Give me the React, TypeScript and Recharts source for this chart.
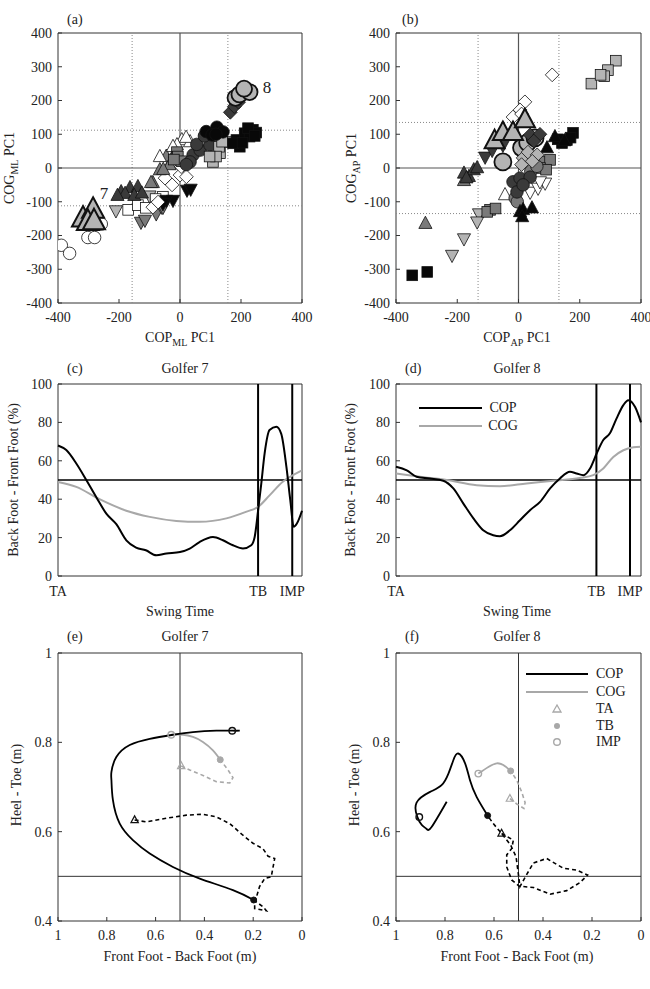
import React from 'react'
import {
  ComposedChart,
  Line,
  LineChart,
  ReferenceArea,
  ReferenceLine,
  Scatter,
  ScatterChart,
  XAxis,
  YAxis,
} from 'recharts'

const FONT = '"Liberation Serif", "DejaVu Serif", "Times New Roman", serif'
const INK = '#222'

type Pt = [number, number]

// ---- panel (a): COP_ML PC1 vs COG_ML PC1 ----
const aCircleWhite: Pt[] = [[-389, -229], [-362, -253], [-302, -206], [-280, -206], [-258, -166]]
const aBigTriLight: Pt[] = [[-318, -150], [-285, -124], [-302, -160], [-282, -158]]
const aTriUpDark: Pt[] = [[-193, -71], [-164, -59], [-138, -56], [-180, -76], [-205, -82], [-150, -82], [-125, -75]]
const aTriDownLight: Pt[] = [[-210, -126], [-100, -82]]
const aSquareWhite: Pt[] = [[-170, -124], [-138, -110], [-56, -85], [-112, -118], [-80, -92]]
const aTriDownMid: Pt[] = [[-128, -160], [-115, -154], [-78, -135], [-61, -115], [-56, -116]]
const aTriDownBlack: Pt[] = [[-23, -95], [23, -65], [-45, -95], [-56, -105], [35, -62]]
const aDiamondWhite: Pt[] = [[-89, -116], [-26, -50], [-49, -30], [0, -21], [4, 4], [21, -26], [-72, -101]]
const aTriUpMid: Pt[] = [[-66, -6], [-89, -44], [-26, 24], [-45, 34], [-17, 44], [-34, 9], [-55, -5], [-95, -44]]
const aTriUpWhite: Pt[] = [[-66, 33], [6, 83], [33, 77], [-10, 68], [-23, 63], [20, 90]]
const aSquareMid: Pt[] = [[-10, 47], [-7, 34], [5, 20], [-20, 25]]
const aCircleDark: Pt[] = [[43, 39], [66, 53], [33, 18], [98, 68], [21, 10], [55, 70], [80, 95]]
const aSquareLight: Pt[] = [[108, 18], [131, 44], [154, 77], [128, 63], [118, 34], [97, 34], [138, 78]]
const aCircleBlack: Pt[] = [[121, 121], [141, 107], [86, 108], [105, 98], [118, 100]]
const aSquareBlack: Pt[] = [[185, 83], [212, 103], [239, 113], [250, 105], [196, 63], [228, 93], [223, 118], [174, 73], [205, 75], [245, 95]]
const aDiamondDark: Pt[] = [[165, 165], [178, 182], [192, 195]]
const aBigCircleLight: Pt[] = [[182, 208], [195, 218], [228, 225], [210, 235]]

// ---- panel (b): COP_AP PC1 vs COG_AP PC1 ----
const bSquareBlack: Pt[] = [[-347, -318], [-298, -308], [178, 104], [158, 83], [142, 74], [128, 85], [170, 90]]
const bTriDownLight: Pt[] = [[-129, -135], [-135, -159], [-178, -209], [-217, -258]]
const bTriUpMid: Pt[] = [[-304, -165], [-178, -38]]
const bTriUpDark: Pt[] = [[-162, -26], [-178, -16], [-146, -6], [-135, 0], [-170, -30]]
const bSquareMid: Pt[] = [[-93, -124], [-102, -130], [-75, -120], [80, 18], [103, 24], [70, 0], [90, -5]]
const bTriUpWhite: Pt[] = [[-44, -80]]
const bTriDownWhite: Pt[] = [[38, -71], [64, -59], [87, -44], [70, -40]]
const bCircleMid: Pt[] = [[-11, -89], [-4, -100], [40, -10], [60, 5]]
const bCircleBlack: Pt[] = [[-18, -41], [5, -30], [38, -27], [-5, -71], [15, -50]]
const bTriUpBlack: Pt[] = [[5, -130], [15, -124], [44, -119], [12, -145], [119, 92], [93, 59], [150, 80]]
const bTriDownBlack: Pt[] = [[-109, 33], [-86, 53], [-51, 68]]
const bDiamondLight: Pt[] = [[15, 30], [31, 47], [61, 39], [10, 10], [45, 20]]
const bDiamondDark: Pt[] = [[38, 98], [70, 100], [50, 80]]
const bDiamondWhite: Pt[] = [[110, 276], [21, 196], [5, 172], [-18, 151], [10, 160]]
const bSquareLight: Pt[] = [[318, 318], [292, 290], [280, 272], [238, 250], [268, 276]]
const bBigCircleLight: Pt[] = [[-51, 18], [10, 60], [30, 75], [54, 89]]
const bBigTriLight: Pt[] = [[-78, 80], [-51, 104], [-18, 104], [21, 142]]

const pcTicksX = [-400, -200, 0, 200, 400]
const pcTicksY = [-400, -300, -200, -100, 0, 100, 200, 300, 400]

// ---- panels (c), (d): swing time (%) ----
const g7Cop: Pt[] = [[0, 68], [3.4, 65.6], [7.5, 58.6], [11.6, 50], [15.7, 41], [19.8, 32.5], [23.9, 27], [28, 18.6], [32, 14.8], [36, 13.4], [40.3, 10.8], [44.4, 11.7], [50, 12.5], [54, 14.3], [58, 17.7], [63.5, 20.3], [67.6, 18.6], [71.7, 16], [75.8, 14.3], [79.2, 16], [80.6, 20.3], [82, 34], [83.3, 48], [84.7, 64], [86.7, 76], [89.5, 77.7], [91.5, 74], [93.6, 57], [95.2, 39.5], [96.6, 25.6], [97.9, 27.3], [100, 34]]
const g7Cog: Pt[] = [[0, 49], [7.5, 46.4], [17, 40], [28, 34], [37.6, 30.8], [48.5, 28.7], [58, 28.2], [69, 30], [77, 33.4], [82, 36], [86.7, 42], [92, 49], [96.3, 52.5], [100, 55]]
const g8Cop: Pt[] = [[0, 56.9], [4.4, 55], [8.4, 51.7], [13.9, 50.8], [19.3, 49.6], [23.4, 45.6], [27.5, 37.7], [31.6, 30], [35.6, 23.8], [39.7, 21.2], [42.4, 20.7], [46.5, 23.8], [50.6, 29], [54.7, 34.3], [58.8, 38.6], [62.9, 45.6], [66.9, 50.8], [71, 54.3], [73.7, 53.4], [76.5, 52.5], [79.2, 56], [81.9, 63.8], [84.6, 70.8], [87.3, 74.3], [90, 82], [92.8, 89], [94.8, 91.6], [97.6, 88], [100, 80]]
const g8Cog: Pt[] = [[0, 53.4], [9.8, 51.7], [20.7, 50], [32.9, 47.3], [42.4, 46.8], [53.3, 48.2], [64.2, 49.6], [75, 51], [80.5, 52.5], [84.6, 56], [88.7, 62], [92.8, 65.5], [96.9, 67], [100, 67.3]]
const g7Events = [0, 82, 96]
const g8Events = [0, 81.8, 95.5]
const eventLabels = ['TA', 'TB', 'IMP']
const pctTicks = [0, 20, 40, 60, 80, 100]

// ---- panels (e), (f): COP / COG paths (m) ----
const g7CopBack: Pt[] = [[0.686, 0.626], [0.638, 0.622], [0.556, 0.63], [0.474, 0.637], [0.406, 0.639], [0.351, 0.633], [0.296, 0.618], [0.242, 0.592], [0.201, 0.574], [0.16, 0.562], [0.139, 0.545], [0.112, 0.54], [0.126, 0.499], [0.153, 0.495], [0.174, 0.477], [0.194, 0.44], [0.194, 0.428], [0.146, 0.423], [0.16, 0.432], [0.198, 0.447]]
const g7CopDown: Pt[] = [[0.198, 0.447], [0.283, 0.469], [0.419, 0.495], [0.529, 0.521], [0.624, 0.551], [0.693, 0.581], [0.747, 0.618], [0.775, 0.671], [0.781, 0.715], [0.781, 0.734], [0.761, 0.767], [0.706, 0.794], [0.624, 0.808], [0.529, 0.817], [0.447, 0.823], [0.351, 0.826], [0.286, 0.826], [0.255, 0.826]]
const g7CogBack: Pt[] = [[0.495, 0.747], [0.46, 0.738], [0.406, 0.726], [0.351, 0.712], [0.296, 0.709], [0.283, 0.721], [0.303, 0.738], [0.335, 0.761]]
const g7CogDown: Pt[] = [[0.335, 0.761], [0.365, 0.782], [0.406, 0.801], [0.447, 0.812], [0.488, 0.817], [0.536, 0.817]]
const g7CopEvents: Pt[] = [[0.686, 0.626], [0.198, 0.447], [0.286, 0.826]]
const g7CogEvents: Pt[] = [[0.495, 0.747], [0.335, 0.761], [0.536, 0.817]]

const g8CopBack: Pt[] = [[0.569, 0.596], [0.521, 0.581], [0.528, 0.562], [0.548, 0.548], [0.548, 0.521], [0.528, 0.492], [0.497, 0.478], [0.439, 0.475], [0.371, 0.46], [0.303, 0.468], [0.249, 0.486], [0.218, 0.503], [0.263, 0.514], [0.317, 0.518], [0.385, 0.54], [0.439, 0.53], [0.473, 0.498], [0.494, 0.477], [0.501, 0.507], [0.51, 0.544], [0.532, 0.57], [0.569, 0.596], [0.603, 0.618], [0.626, 0.636]]
const g8CopDown: Pt[] = [[0.626, 0.636], [0.671, 0.678], [0.698, 0.715], [0.718, 0.753], [0.746, 0.775], [0.766, 0.76], [0.786, 0.73], [0.814, 0.704], [0.861, 0.689], [0.916, 0.665], [0.913, 0.633], [0.895, 0.615], [0.875, 0.606], [0.854, 0.611], [0.793, 0.667]]
const g8CogBack: Pt[] = [[0.535, 0.674], [0.507, 0.662], [0.478, 0.652], [0.473, 0.665], [0.487, 0.689], [0.507, 0.715], [0.532, 0.736]]
const g8CogDown: Pt[] = [[0.532, 0.736], [0.562, 0.749], [0.589, 0.753], [0.623, 0.745], [0.664, 0.73]]
const g8CopEvents: Pt[] = [[0.569, 0.596], [0.626, 0.636], [0.905, 0.633]]
const g8CogEvents: Pt[] = [[0.535, 0.674], [0.532, 0.736], [0.664, 0.73]]

const footTicksX = [0, 0.2, 0.4, 0.6, 0.8, 1]
const footTicksY = [0.4, 0.6, 0.8, 1]

const WHITE = '#ffffff'
const LIGHT = '#b4b4b4'
const MID = '#7a7a7a'
const DARK = '#3a3a3a'
const BLACK = '#080808'
const COG_GRAY = '#a8a8a8'

const pts = (arr: Pt[]) => arr.map(([x, y]) => ({ x, y }))

type Kind = 'circle' | 'square' | 'diamond' | 'triUp' | 'triDown'
type Series = { data: Pt[]; kind: Kind; fill: string; size: number; sw: number }

function markerShape(kind: Kind, size: number, fill: string, sw: number, stroke = '#111') {
  return (p: any) => {
    const { cx, cy } = p
    if (cx == null || cy == null) return <g />
    const st = { fill, stroke, strokeWidth: sw }
    const h = size / 2
    if (kind === 'circle') return <circle cx={cx} cy={cy} r={h} {...st} />
    if (kind === 'square') return <rect x={cx - h * 0.85} y={cy - h * 0.85} width={size * 0.85} height={size * 0.85} {...st} />
    if (kind === 'diamond') {
      const d = h * 1.1
      return <polygon points={`${cx},${cy - d} ${cx + d},${cy} ${cx},${cy + d} ${cx - d},${cy}`} {...st} />
    }
    if (kind === 'triUp')
      return <polygon points={`${cx},${cy - size * 0.6} ${cx + h * 1.05},${cy + size * 0.38} ${cx - h * 1.05},${cy + size * 0.38}`} {...st} />
    return <polygon points={`${cx},${cy + size * 0.6} ${cx + h * 1.05},${cy - size * 0.38} ${cx - h * 1.05},${cy - size * 0.38}`} {...st} />
  }
}

const N = 12.5
const seriesA: Series[] = [
  { data: aCircleWhite, kind: 'circle', fill: WHITE, size: N, sw: 0.8 },
  { data: aTriDownLight, kind: 'triDown', fill: LIGHT, size: N, sw: 0.8 },
  { data: aSquareWhite, kind: 'square', fill: WHITE, size: N, sw: 0.8 },
  { data: aTriDownMid, kind: 'triDown', fill: MID, size: N, sw: 0.8 },
  { data: aTriDownBlack, kind: 'triDown', fill: BLACK, size: N, sw: 0.8 },
  { data: aTriUpDark, kind: 'triUp', fill: DARK, size: N, sw: 0.8 },
  { data: aDiamondWhite, kind: 'diamond', fill: WHITE, size: N, sw: 0.8 },
  { data: aTriUpMid, kind: 'triUp', fill: MID, size: N, sw: 0.8 },
  { data: aTriUpWhite, kind: 'triUp', fill: WHITE, size: N, sw: 0.8 },
  { data: aSquareMid, kind: 'square', fill: MID, size: N, sw: 0.8 },
  { data: aCircleDark, kind: 'circle', fill: DARK, size: N, sw: 0.8 },
  { data: aSquareLight, kind: 'square', fill: LIGHT, size: N, sw: 0.8 },
  { data: aCircleBlack, kind: 'circle', fill: BLACK, size: N, sw: 0.8 },
  { data: aSquareBlack, kind: 'square', fill: BLACK, size: N, sw: 0.8 },
  { data: aDiamondDark, kind: 'diamond', fill: DARK, size: N, sw: 0.8 },
  { data: aBigTriLight, kind: 'triUp', fill: LIGHT, size: 21, sw: 2 },
  { data: aBigCircleLight, kind: 'circle', fill: LIGHT, size: 16, sw: 1.8 },
]

const seriesB: Series[] = [
  { data: bSquareBlack, kind: 'square', fill: BLACK, size: N, sw: 0.8 },
  { data: bTriDownLight, kind: 'triDown', fill: LIGHT, size: N, sw: 0.8 },
  { data: bTriUpMid, kind: 'triUp', fill: MID, size: N, sw: 0.8 },
  { data: bTriUpDark, kind: 'triUp', fill: DARK, size: N, sw: 0.8 },
  { data: bSquareMid, kind: 'square', fill: MID, size: N, sw: 0.8 },
  { data: bTriUpWhite, kind: 'triUp', fill: WHITE, size: N, sw: 0.8 },
  { data: bTriDownWhite, kind: 'triDown', fill: WHITE, size: N, sw: 0.8 },
  { data: bCircleMid, kind: 'circle', fill: MID, size: N, sw: 0.8 },
  { data: bCircleBlack, kind: 'circle', fill: DARK, size: N, sw: 0.8 },
  { data: bTriUpBlack, kind: 'triUp', fill: BLACK, size: N, sw: 0.8 },
  { data: bTriDownBlack, kind: 'triDown', fill: DARK, size: N, sw: 0.8 },
  { data: bDiamondWhite, kind: 'diamond', fill: WHITE, size: N, sw: 0.8 },
  { data: bSquareLight, kind: 'square', fill: LIGHT, size: N, sw: 0.8 },
  { data: bBigCircleLight, kind: 'circle', fill: LIGHT, size: 17, sw: 1.8 },
  { data: bDiamondLight, kind: 'diamond', fill: LIGHT, size: N, sw: 0.8 },
  { data: bDiamondDark, kind: 'diamond', fill: DARK, size: N, sw: 0.8 },
  { data: bBigTriLight, kind: 'triUp', fill: LIGHT, size: 19, sw: 2 },
]

const tickStyle = { fontFamily: FONT, fontSize: 14, fill: INK }

// inner tick marks on the top and right edges of a boxed axes
function boxTicks(xTicks: number[], yTicks: number[]) {
  return [
    <XAxis key="xt" xAxisId="top" orientation="top" type="number" domain={[xTicks[0], xTicks[xTicks.length - 1]]} ticks={xTicks}
      height={0} tickSize={-4} tick={false} axisLine={false} stroke="#333" allowDataOverflow interval={0} />,
    <YAxis key="yr" yAxisId="right" orientation="right" type="number" domain={[yTicks[0], yTicks[yTicks.length - 1]]} ticks={yTicks}
      width={0} tickSize={-4} tick={false} axisLine={false} stroke="#333" allowDataOverflow interval={0} />,
  ]
}

function PcPanel({ left, width, series, vx, hy }: { left: number; width: number; series: Series[]; vx: number; hy: number }) {
  return (
    <div style={{ position: 'absolute', left, top: 0 }}>
      <ScatterChart width={width} height={330} margin={{ top: 33, right: width === 320 ? 18 : 9, bottom: 0, left: 0 }}>
        <XAxis type="number" dataKey="x" domain={[-400, 400]} ticks={pcTicksX} height={27} tickSize={-4} tickMargin={13}
          axisLine={false} stroke="#333" tick={tickStyle} allowDataOverflow interval={0} />
        <YAxis type="number" dataKey="y" domain={[-400, 400]} ticks={pcTicksY} width={58} tickSize={-4} tickMargin={10}
          axisLine={false} stroke="#333" tick={tickStyle} allowDataOverflow interval={0} />
        {boxTicks(pcTicksX, pcTicksY)}
        <ReferenceArea x1={-400} x2={400} y1={-400} y2={400} fill="none" stroke="#333" strokeWidth={1} />
        <ReferenceLine x={-vx} stroke="#888" strokeDasharray="1 2" />
        <ReferenceLine x={vx} stroke="#888" strokeDasharray="1 2" />
        <ReferenceLine y={-hy} stroke="#888" strokeDasharray="1 2" />
        <ReferenceLine y={hy} stroke="#888" strokeDasharray="1 2" />
        <ReferenceLine x={0} stroke="#555" strokeWidth={1.2} />
        <ReferenceLine y={0} stroke="#555" strokeWidth={1.2} />
        {series.map((s, i) => (
          <Scatter key={i} data={pts(s.data)} isAnimationActive={false}
            shape={markerShape(s.kind, s.size, s.fill, s.sw)} />
        ))}
      </ScatterChart>
    </div>
  )
}

function TimePanel({ left, width, cop, cog, events }: { left: number; width: number; cop: Pt[]; cog: Pt[]; events: number[] }) {
  return (
    <div style={{ position: 'absolute', left, top: 350 }}>
      <LineChart width={width} height={253} margin={{ top: 34, right: width === 320 ? 18 : 9, bottom: 0, left: 0 }}>
        <XAxis type="number" dataKey="x" domain={[0, 100]} ticks={events} height={27} tickLine={false} tickSize={0} tickMargin={10}
          axisLine={false} tick={tickStyle} interval={0}
          tickFormatter={(v: number) => eventLabels[events.indexOf(v)] ?? ''} />
        <YAxis type="number" domain={[0, 100]} ticks={pctTicks} width={58} tickSize={-4} tickMargin={10}
          axisLine={false} stroke="#333" tick={tickStyle} interval={0} />
        <YAxis yAxisId="right" orientation="right" type="number" domain={[0, 100]} ticks={pctTicks}
          width={0} tickSize={-4} tick={false} axisLine={false} stroke="#333" interval={0} />
        <ReferenceArea x1={0} x2={100} y1={0} y2={100} fill="none" stroke="#333" strokeWidth={1} />
        <ReferenceLine y={50} stroke="#000" strokeWidth={1.6} />
        <ReferenceLine x={events[1]} stroke="#000" strokeWidth={2} />
        <ReferenceLine x={events[2]} stroke="#000" strokeWidth={2} />
        <Line data={pts(cog)} dataKey="y" type="monotone" stroke={COG_GRAY} strokeWidth={2} dot={false} isAnimationActive={false} />
        <Line data={pts(cop)} dataKey="y" type="monotone" stroke="#000" strokeWidth={2} dot={false} isAnimationActive={false} />
      </LineChart>
    </div>
  )
}

const evShapes = (color: string) => [
  markerShape('triUp', 7, 'none', 1.2, color),
  markerShape('circle', 6, color, 1, color),
  markerShape('circle', 6.5, 'none', 1.4, color),
]

function PathPanel({ left, width, copBack, copDown, cogBack, cogDown, copEv, cogEv }: {
  left: number; width: number; copBack: Pt[]; copDown: Pt[]; cogBack: Pt[]; cogDown: Pt[]; copEv: Pt[]; cogEv: Pt[]
}) {
  const copShapes = evShapes('#111')
  const cogShapes = evShapes(COG_GRAY)
  return (
    <div style={{ position: 'absolute', left, top: 640 }}>
      <ComposedChart width={width} height={308} margin={{ top: 13, right: width === 320 ? 18 : 9, bottom: 0, left: 0 }}>
        <XAxis type="number" dataKey="x" domain={[0, 1]} reversed ticks={footTicksX} height={27} tickSize={-4} tickMargin={13}
          axisLine={false} stroke="#333" tick={tickStyle} interval={0} allowDataOverflow />
        <YAxis type="number" dataKey="y" domain={[0.4, 1]} ticks={footTicksY} width={58} tickSize={-4} tickMargin={10}
          axisLine={false} stroke="#333" tick={tickStyle} interval={0} allowDataOverflow />
        <XAxis xAxisId="top" orientation="top" type="number" domain={[0, 1]} reversed ticks={footTicksX}
          height={0} tickSize={-4} tick={false} axisLine={false} stroke="#333" allowDataOverflow interval={0} />
        <YAxis yAxisId="right" orientation="right" type="number" domain={[0.4, 1]} ticks={footTicksY}
          width={0} tickSize={-4} tick={false} axisLine={false} stroke="#333" allowDataOverflow interval={0} />
        <ReferenceArea x1={0} x2={1} y1={0.4} y2={1} fill="none" stroke="#333" strokeWidth={1} />
        <ReferenceLine x={0.5} stroke="#333" strokeWidth={1} />
        <ReferenceLine y={0.5} stroke="#333" strokeWidth={1} />
        <Line data={pts(cogBack)} dataKey="y" type="linear" stroke={COG_GRAY} strokeWidth={1.6} strokeDasharray="4 3" dot={false} isAnimationActive={false} />
        <Line data={pts(cogDown)} dataKey="y" type="natural" stroke={COG_GRAY} strokeWidth={1.8} dot={false} isAnimationActive={false} />
        <Line data={pts(copBack)} dataKey="y" type="linear" stroke="#000" strokeWidth={1.6} strokeDasharray="4 3" dot={false} isAnimationActive={false} />
        <Line data={pts(copDown)} dataKey="y" type="natural" stroke="#000" strokeWidth={1.8} dot={false} isAnimationActive={false} />
        {copEv.map((p, i) => (
          <Scatter key={'p' + i} data={pts([p])} isAnimationActive={false} shape={copShapes[i]} />
        ))}
        {cogEv.map((p, i) => (
          <Scatter key={'g' + i} data={pts([p])} isAnimationActive={false} shape={cogShapes[i]} />
        ))}
      </ComposedChart>
    </div>
  )
}

const txt = (left: number, top: number, content: React.ReactNode, extra: React.CSSProperties = {}) => (
  <div style={{ position: 'absolute', left, top, fontSize: 14, lineHeight: '16px', whiteSpace: 'nowrap', ...extra }}>{content}</div>
)
const ctr = (cx: number, cy: number, content: React.ReactNode, extra: React.CSSProperties = {}) => (
  <div style={{ position: 'absolute', left: cx, top: cy, transform: 'translate(-50%, -50%)', fontSize: 14, lineHeight: '16px', whiteSpace: 'nowrap', ...extra }}>{content}</div>
)
const rot = (cx: number, cy: number, content: React.ReactNode) => (
  <div style={{ position: 'absolute', left: cx, top: cy, transform: 'translate(-50%, -50%) rotate(-90deg)', fontSize: 14, lineHeight: '16px', whiteSpace: 'nowrap' }}>{content}</div>
)
const sub = (s: string) => <span style={{ fontSize: 10, position: 'relative', top: 4 }}>{s}</span>

export default function App() {
  return (
    <div style={{ position: 'absolute', left: 0, top: 0, width: 650, height: 989, background: '#fff', fontFamily: FONT, color: INK, overflow: 'hidden' }}>
      <PcPanel left={0} width={320} series={seriesA} vx={157} hy={112} />
      <PcPanel left={338} width={312} series={seriesB} vx={132} hy={135} />
      <TimePanel left={0} width={320} cop={g7Cop} cog={g7Cog} events={g7Events} />
      <TimePanel left={338} width={312} cop={g8Cop} cog={g8Cog} events={g8Events} />
      <PathPanel left={0} width={320} copBack={g7CopBack} copDown={g7CopDown} cogBack={g7CogBack} cogDown={g7CogDown} copEv={g7CopEvents} cogEv={g7CogEvents} />
      <PathPanel left={338} width={312} copBack={g8CopBack} copDown={g8CopDown} cogBack={g8CogBack} cogDown={g8CogDown} copEv={g8CopEvents} cogEv={g8CogEvents} />

      {/* panel letters and titles */}
      {txt(67, 12, '(a)')}
      {txt(402, 12, '(b)')}
      {txt(67, 361, '(c)')}
      {txt(405, 361, '(d)')}
      {txt(67, 629, '(e)')}
      {txt(405, 629, '(f)')}
      {ctr(185, 369, 'Golfer 7')}
      {ctr(517, 369, 'Golfer 8')}
      {ctr(185, 637, 'Golfer 7')}
      {ctr(517, 637, 'Golfer 8')}

      {/* axis titles */}
      {ctr(180, 338, <>COP{sub('ML')} PC1</>)}
      {ctr(517, 338, <>COP{sub('AP')} PC1</>)}
      {rot(10, 168, <>COG{sub('ML')} PC1</>)}
      {rot(352, 168, <>COG{sub('AP')} PC1</>)}
      {ctr(180, 612, 'Swing Time')}
      {ctr(517, 612, 'Swing Time')}
      {rot(14, 480, 'Back Foot - Front Foot (%)')}
      {rot(351, 480, 'Back Foot - Front Foot (%)')}
      {ctr(180, 957, 'Front Foot - Back Foot (m)')}
      {ctr(517, 957, 'Front Foot - Back Foot (m)')}
      {rot(17, 785, 'Heel - Toe (m)')}
      {rot(355, 785, 'Heel - Toe (m)')}

      {/* golfer numbers in (a) */}
      {ctr(267, 88, '8', { fontSize: 17 })}
      {ctr(104, 194, '7', { fontSize: 17 })}

      {/* legend (d) */}
      <svg style={{ position: 'absolute', left: 415, top: 398 }} width={70} height={40}>
        <line x1={4} x2={67} y1={10} y2={10} stroke="#000" strokeWidth={2} />
        <line x1={4} x2={67} y1={28} y2={28} stroke={COG_GRAY} strokeWidth={2} />
      </svg>
      {ctr(503, 408, 'COP')}
      {ctr(503, 426, 'COG')}

      {/* legend (f) */}
      <svg style={{ position: 'absolute', left: 522, top: 664 }} width={70} height={90}>
        <line x1={4} x2={66} y1={10} y2={10} stroke="#000" strokeWidth={2} />
        <line x1={4} x2={66} y1={28} y2={28} stroke={COG_GRAY} strokeWidth={2} />
        <polygon points="35,41 39,48 31,48" fill="none" stroke={COG_GRAY} strokeWidth={1.3} />
        <circle cx={35} cy={62} r={3} fill={COG_GRAY} />
        <circle cx={35} cy={78} r={3.3} fill="none" stroke={COG_GRAY} strokeWidth={1.4} />
      </svg>
      {txt(596, 666, 'COP')}
      {txt(596, 684, 'COG')}
      {txt(596, 701, 'TA')}
      {txt(596, 718, 'TB')}
      {txt(596, 734, 'IMP')}
    </div>
  )
}
